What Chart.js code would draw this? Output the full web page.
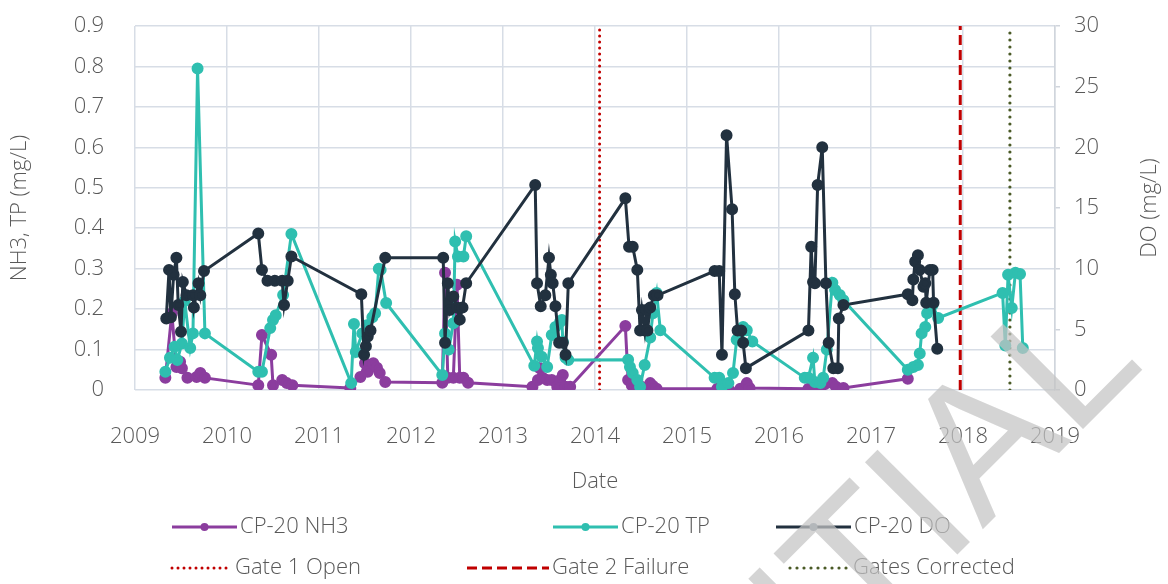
<!DOCTYPE html>
<html>
<head>
<meta charset="utf-8">
<script src="https://cdn.jsdelivr.net/npm/chart.js@4.4.1/dist/chart.umd.min.js"></script>
<style>
  html, body { margin: 0; padding: 0; background: #ffffff; }
  #wrap { width: 1168px; height: 584px; position: relative; }
</style>
</head>
<body>
<div id="wrap"><canvas id="chart" width="1168" height="584"></canvas></div>
<script>
// Sampling dates (decimal years) and measured values, station CP-20
const nh3Dates = [2009.33, 2009.40, 2009.45, 2009.49, 2009.51, 2009.57, 2009.67, 2009.71, 2009.76,
  2010.34, 2010.38, 2010.48, 2010.50, 2010.60, 2010.65, 2010.71,
  2011.34, 2011.45, 2011.50, 2011.53, 2011.59, 2011.63, 2011.66, 2011.72,
  2012.34, 2012.37, 2012.40, 2012.46, 2012.50, 2012.53, 2012.57, 2012.62,
  2013.32, 2013.38, 2013.40, 2013.43, 2013.48, 2013.53, 2013.59, 2013.62, 2013.65, 2013.68, 2013.73,
  2014.33, 2014.36, 2014.40, 2014.43, 2014.49, 2014.54, 2014.60, 2014.63, 2014.67,
  2015.33, 2015.38, 2015.45, 2015.58, 2015.65, 2015.68,
  2016.32, 2016.37, 2016.45, 2016.50, 2016.58, 2016.62, 2016.70, 2017.40];
const nh3Values = [0.03, 0.19, 0.057, 0.07, 0.054, 0.03, 0.032, 0.042, 0.03,
  0.012, 0.136, 0.087, 0.012, 0.025, 0.017, 0.012,
  0.005, 0.032, 0.066, 0.045, 0.066, 0.055, 0.042, 0.02,
  0.018, 0.29, 0.03, 0.03, 0.26, 0.03, 0.03, 0.018,
  0.008, 0.025, 0.054, 0.03, 0.025, 0.025, 0.008, 0.025, 0.037, 0.008, 0.008,
  0.158, 0.025, 0.012, 0.003, 0.01, 0.005, 0.017, 0.01, 0.003,
  0.003, 0.008, 0.003, 0.003, 0.017, 0.005,
  0.003, 0.012, 0.005, 0.015, 0.017, 0.008, 0.005, 0.028];

const tpDates = [2009.33, 2009.38, 2009.43, 2009.46, 2009.51, 2009.54, 2009.60, 2009.63, 2009.68, 2009.76,
  2010.34, 2010.38, 2010.47, 2010.50, 2010.53, 2010.61, 2010.70,
  2011.35, 2011.38, 2011.40, 2011.47, 2011.52, 2011.58, 2011.61, 2011.65, 2011.67, 2011.73,
  2012.34, 2012.37, 2012.41, 2012.46, 2012.48, 2012.51, 2012.57, 2012.60,
  2013.34, 2013.37, 2013.38, 2013.42, 2013.48, 2013.53, 2013.57, 2013.62, 2013.64, 2013.65, 2013.68, 2013.71,
  2014.36, 2014.38, 2014.41, 2014.46, 2014.49, 2014.54, 2014.60, 2014.63, 2014.67, 2014.71,
  2015.30, 2015.35, 2015.38, 2015.45, 2015.50, 2015.54, 2015.58, 2015.61, 2015.65, 2015.71,
  2016.28, 2016.32, 2016.37, 2016.39, 2016.45, 2016.48, 2016.52, 2016.58, 2016.61, 2016.66, 2016.70,
  2017.40, 2017.46, 2017.51, 2017.53, 2017.55, 2017.59, 2017.61, 2017.64, 2017.67, 2017.73,
  2018.43, 2018.46, 2018.49, 2018.53, 2018.57, 2018.62, 2018.65];
const tpValues = [0.045, 0.08, 0.107, 0.074, 0.115, 0.22, 0.104, 0.14, 0.795, 0.14,
  0.045, 0.045, 0.153, 0.173, 0.185, 0.235, 0.386,
  0.017, 0.163, 0.094, 0.14, 0.16, 0.18, 0.19, 0.30, 0.297, 0.215,
  0.037, 0.14, 0.10, 0.165, 0.367, 0.33, 0.33, 0.38,
  0.06, 0.12, 0.104, 0.082, 0.057, 0.136, 0.156, 0.168, 0.173, 0.12, 0.08, 0.074,
  0.075, 0.057, 0.042, 0.025, 0.008, 0.062, 0.13, 0.19, 0.24, 0.148,
  0.03, 0.03, 0.008, 0.017, 0.042, 0.124, 0.143, 0.156, 0.148, 0.12,
  0.03, 0.03, 0.08, 0.02, 0.017, 0.03, 0.10, 0.265, 0.247, 0.235, 0.222,
  0.05, 0.057, 0.062, 0.09, 0.14, 0.156, 0.19, 0.203, 0.21, 0.178,
  0.24, 0.11, 0.285, 0.203, 0.29, 0.287, 0.104];

const doDates = [2009.34, 2009.37, 2009.39, 2009.42, 2009.45, 2009.47, 2009.50, 2009.52, 2009.56, 2009.63, 2009.64, 2009.69, 2009.71, 2009.75,
  2010.34, 2010.38, 2010.44, 2010.52, 2010.60, 2010.62, 2010.66, 2010.70,
  2011.46, 2011.49, 2011.51, 2011.53, 2011.56, 2011.72,
  2012.35, 2012.37, 2012.40, 2012.42, 2012.46, 2012.50, 2012.53, 2012.56, 2012.60,
  2013.35, 2013.37, 2013.41, 2013.46, 2013.50, 2013.52, 2013.54, 2013.57, 2013.61, 2013.65, 2013.68, 2013.71,
  2014.33, 2014.37, 2014.41, 2014.46, 2014.49, 2014.51, 2014.54, 2014.56, 2014.57, 2014.60, 2014.64, 2014.68,
  2015.30, 2015.35, 2015.38, 2015.43, 2015.49, 2015.52, 2015.55, 2015.59, 2015.61, 2015.64,
  2016.32, 2016.35, 2016.37, 2016.39, 2016.42, 2016.47, 2016.51, 2016.54, 2016.59, 2016.64, 2016.65, 2016.70,
  2017.40, 2017.45, 2017.46, 2017.48, 2017.51, 2017.53, 2017.57, 2017.59, 2017.60, 2017.64, 2017.67, 2017.68, 2017.72];
const doValues = [5.9, 9.9, 6.0, 9.5, 10.9, 7.0, 4.8, 8.9, 7.8, 7.8, 6.8, 8.8, 7.8, 9.8,
  12.9, 9.9, 9.0, 9.0, 9.0, 7.0, 9.0, 11.0,
  7.9, 2.9, 3.6, 4.4, 4.9, 10.9,
  10.9, 3.9, 8.8, 6.6, 7.7, 6.8, 5.8, 6.8, 8.8,
  16.9, 8.8, 6.9, 7.8, 10.9, 9.5, 8.8, 6.9, 3.9, 3.9, 2.9, 8.8,
  15.8, 11.8, 11.8, 9.9, 4.9, 6.6, 4.9, 6.6, 4.9, 6.8, 7.8, 7.8,
  9.8, 9.8, 2.9, 21.0, 14.9, 7.9, 4.9, 4.9, 3.9, 1.8,
  4.9, 11.8, 8.9, 8.8, 16.9, 20.0, 8.8, 3.9, 1.8, 1.8, 5.9, 7.0,
  7.9, 7.4, 9.1, 10.6, 11.1, 9.9, 8.5, 8.8, 7.2, 9.9, 9.9, 7.2, 3.4];

// Structure events (decimal years)
const gateLabels = ['Gate 1 Open', 'Gate 2 Failure', 'Gates Corrected'];
const gateDates = [2014.05, 2017.97, 2018.51];

// Axis ranges
const xRange = [2009, 2019];
const leftRange = [0, 0.9];
const rightRange = [0, 30];

const TEXT = '#595959';
const GRID = '#d7dde6';
const FONT = "'Open Sans', 'Segoe UI', sans-serif";
const WEIGHT = '300';

const pairs = (xs, ys) => xs.map((x, i) => ({ x: x, y: ys[i] }));

const seriesStyle = (color) => ({
  borderColor: color, backgroundColor: color,
  pointBackgroundColor: color, pointBorderColor: color,
  borderWidth: 3, pointRadius: 4.5, pointHoverRadius: 4.5,
  showLine: true, fill: false, tension: 0
});

const gateStyles = [
  { color: '#c00000', dash: [0, 6], cap: 'round', width: 3 },
  { color: '#c00000', dash: [10, 5], cap: 'butt', width: 3 },
  { color: '#4a5a26', dash: [0, 7], cap: 'round', width: 3.2 }
];

const datasets = [
  Object.assign({ label: 'CP-20 NH3', data: pairs(nh3Dates, nh3Values), yAxisID: 'y', order: 3 }, seriesStyle('#8b3d9e')),
  Object.assign({ label: 'CP-20 TP', data: pairs(tpDates, tpValues), yAxisID: 'y', order: 2 }, seriesStyle('#2fbfb0')),
  Object.assign({ label: 'CP-20 DO', data: pairs(doDates, doValues), yAxisID: 'yDO', order: 1 }, seriesStyle('#22313f'))
];
gateDates.forEach((d, i) => {
  datasets.push({
    label: gateLabels[i],
    data: [{ x: d, y: leftRange[0] }, { x: d, y: leftRange[1] }],
    yAxisID: 'y', order: 4,
    borderColor: gateStyles[i].color, borderDash: gateStyles[i].dash,
    borderCapStyle: gateStyles[i].cap,
    borderWidth: gateStyles[i].width, pointRadius: 0, showLine: true, fill: false
  });
});

// Two-row legend, right-hand axis title and the page stamp
const legendLayout = [
  { ds: 0, row: 0, x: 172, w: 65 },
  { ds: 1, row: 0, x: 553, w: 65 },
  { ds: 2, row: 0, x: 776, w: 75, marker: '#8a96a3' },
  { ds: 3, row: 1, x: 172, w: 60 },
  { ds: 4, row: 1, x: 467, w: 82 },
  { ds: 5, row: 1, x: 790, w: 60 }
];
const legendRowsY = [527, 568];
const stampText = 'CONFIDENTIAL';
const stampTail = 'TIAL';

const extras = {
  id: 'extras',
  afterDraw(chart) {
    const ctx = chart.ctx;
    ctx.save();
    legendLayout.forEach(item => {
      const ds = chart.data.datasets[item.ds];
      const y = legendRowsY[item.row];
      ctx.strokeStyle = ds.borderColor;
      ctx.lineWidth = ds.borderWidth;
      ctx.lineCap = ds.borderCapStyle || 'butt';
      ctx.setLineDash(ds.borderDash || []);
      ctx.beginPath();
      ctx.moveTo(item.x, y);
      ctx.lineTo(item.x + item.w, y);
      ctx.stroke();
      ctx.setLineDash([]);
      ctx.lineCap = 'butt';
      if (ds.pointRadius > 0) {
        ctx.fillStyle = item.marker || ds.pointBackgroundColor;
        ctx.beginPath();
        ctx.arc(item.x + item.w / 2, y, 4, 0, Math.PI * 2);
        ctx.fill();
      }
      ctx.fillStyle = TEXT;
      ctx.font = WEIGHT + ' 22px ' + FONT;
      ctx.textAlign = 'left';
      ctx.textBaseline = 'middle';
      ctx.fillText(ds.label, item.x + item.w + 3, y);
    });

    ctx.save();
    const ya = chart.scales.yDO;
    ctx.translate(1150, (ya.top + ya.bottom) / 2);
    ctx.rotate(-Math.PI / 2);
    ctx.fillStyle = TEXT;
    ctx.font = WEIGHT + ' 22px ' + FONT;
    ctx.textAlign = 'center';
    ctx.textBaseline = 'middle';
    ctx.fillText('DO (mg/L)', 0, 0);
    ctx.restore();

    // diagonal page stamp, semi-transparent, over the plot
    ctx.save();
    ctx.font = '190px "Liberation Sans", Arial, sans-serif';
    const head = ctx.measureText(stampText.slice(0, stampText.length - stampTail.length)).width;
    ctx.translate(863, 649);
    ctx.rotate(-Math.PI / 4);
    ctx.fillStyle = 'rgba(196, 196, 196, 0.72)';
    ctx.textAlign = 'left';
    ctx.textBaseline = 'alphabetic';
    ctx.fillText(stampText, -head, 0);
    ctx.restore();

    ctx.restore();
  }
};

const tickFont = { family: FONT, size: 22, weight: WEIGHT };
const trimVertical = s => { s.paddingTop = 0; s.paddingBottom = 0; };

new Chart(document.getElementById('chart'), {
  type: 'scatter',
  data: { datasets: datasets },
  plugins: [extras],
  options: {
    responsive: false,
    animation: false,
    devicePixelRatio: 1,
    layout: { padding: { top: 26, left: 0, right: 0, bottom: 0 } },
    plugins: { legend: { display: false }, tooltip: { enabled: false } },
    scales: {
      x: {
        type: 'linear', position: 'bottom', min: xRange[0], max: xRange[1],
        ticks: { stepSize: 1, padding: 34, color: TEXT, font: tickFont, callback: v => String(v) },
        grid: { color: GRID, lineWidth: 1.5, drawTicks: false },
        border: { display: false },
        title: { display: true, text: 'Date', color: TEXT, font: tickFont, padding: { top: 0, bottom: 89 } },
        afterFit: s => { s.height = 194; }
      },
      y: {
        type: 'linear', position: 'left', min: leftRange[0], max: leftRange[1],
        ticks: { stepSize: 0.1, padding: 31, color: TEXT, font: tickFont },
        grid: { color: GRID, lineWidth: 1.5, drawTicks: false },
        border: { display: false },
        title: { display: true, text: 'NH3, TP (mg/L)', color: TEXT, font: tickFont, padding: { top: 7, bottom: 0 } },
        afterFit: s => { s.width = 135; trimVertical(s); }
      },
      yDO: {
        type: 'linear', position: 'right', min: rightRange[0], max: rightRange[1],
        ticks: { stepSize: 5, padding: 14, color: TEXT, font: tickFont },
        grid: { drawOnChartArea: false, drawTicks: true, tickLength: 5, color: '#d0d5dc', lineWidth: 1.5 },
        border: { display: true, color: '#d0d5dc', width: 1.5 },
        afterFit: s => { s.width = 113; trimVertical(s); }
      }
    }
  }
});
</script>
</body>
</html>
